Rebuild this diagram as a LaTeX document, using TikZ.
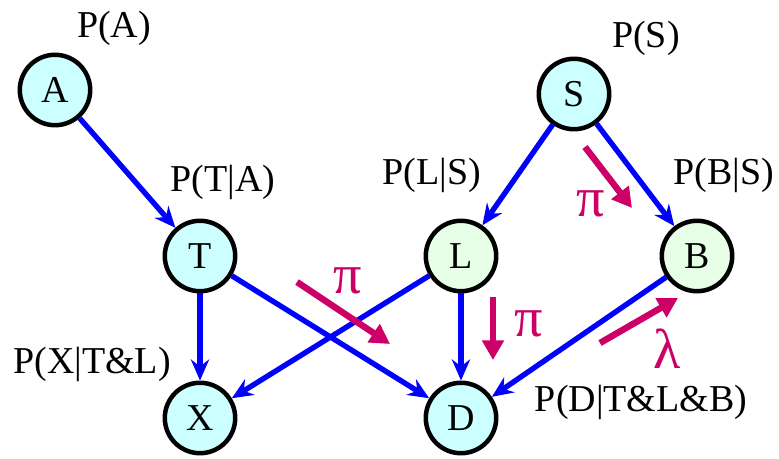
\documentclass[tikz,border=0pt]{standalone}
\usepackage{fontspec}
\setmainfont{Liberation Serif}
\usetikzlibrary{arrows.meta}

\definecolor{nodecyan}{HTML}{CCFFFF}
\definecolor{nodegreen}{HTML}{E6FFE6}
\definecolor{edgeblue}{HTML}{0000FF}
\definecolor{msgred}{HTML}{CC0066}

\begin{document}
\begin{tikzpicture}[
  x=0.025cm, y=-0.025cm,
  every node/.style = {font=\fontsize{27}{32}\selectfont},
  var/.style = {circle, draw=black, line width=3.2pt, minimum size=1.76cm,
                inner sep=0pt, fill=nodecyan},
  cpt/.style = {inner sep=0pt},
  edge/.style = {-{Stealth[length=15pt, width=13pt, inset=5pt]},
                 line width=3.8pt, edgeblue},
  msg/.style = {-{Triangle[length=14pt, width=15pt]}, line width=4.6pt, msgred},
  msglabel/.style = {inner sep=0pt, text=msgred,
                     font=\fontsize{40}{44}\selectfont},
]
\useasboundingbox (0,0) rectangle (779,459);

%% ── Variables ───────────────────────────────────────────────────────────────
\node[var] (A) at (55,90) {A};
\node[var] (S) at (574,94) {S};
\node[var] (T) at (200,256) {T};
\node[var, fill=nodegreen] (L) at (461,256) {L};
\node[var, fill=nodegreen] (B) at (697,256) {B};
\node[var] (X) at (200,418) {X};
\node[var] (D) at (461,418) {D};

%% ── Conditional probability tables ──────────────────────────────────────────
\node[cpt] (pA) at (114,28) {P(A)};
\node[cpt] (pS) at (646,38) {P(S)};
\node[cpt] (pT) at (223,182) {P(T|A)};
\node[cpt] (pL) at (432,175) {P(L|S)};
\node[cpt] (pB) at (724,175) {P(B|S)};
\node[cpt] (pX) at (92,364) {P(X|T\&L)};
\node[cpt] (pD) at (641,402) {P(D|T\&L\&B)};

%% ── Causal links ────────────────────────────────────────────────────────────
\draw[edge] (A) -- (T);
\draw[edge] (S) -- (L);
\draw[edge] (S) -- (B);
\draw[edge] (T) -- (X);
\draw[edge] (T) -- (D);
\draw[edge] (L) -- (X);
\draw[edge] (L) -- (D);
\draw[edge] (B) -- (D);

%% ── Messages ────────────────────────────────────────────────────────────────
\coordinate (m1a) at (297,282);  \coordinate (m1b) at (390,344);
\coordinate (m2a) at (493,297);  \coordinate (m2b) at (493,360);
\coordinate (m3a) at (585,147);  \coordinate (m3b) at (632,208);
\coordinate (m4a) at (600,343);  \coordinate (m4b) at (678,298);
\draw[msg] (m1a) -- (m1b);
\draw[msg] (m2a) -- (m2b);
\draw[msg] (m3a) -- (m3b);
\draw[msg] (m4a) -- (m4b);
\node[msglabel] (piTD) at (348,281) {π};
\node[msglabel] (piLD) at (529,324) {π};
\node[msglabel] (piSB) at (591,204) {π};
\node[msglabel] (lamBD) at (667,349) {λ};

\end{tikzpicture}
\end{document}
